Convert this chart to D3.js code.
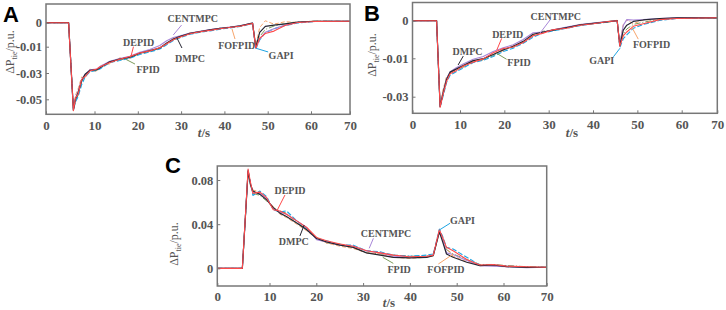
<!DOCTYPE html>
<html>
<head>
<meta charset="utf-8">
<script src="https://cdn.jsdelivr.net/npm/d3@7"></script>
<style>
  body { margin: 0; background: #fff; }
</style>
</head>
<body>
<script>
// ---- data (t in s, values in p.u.) ----
const names = ['FPID', 'FOFPID', 'GAPI', 'CENTMPC', 'DMPC', 'DEPID'];
const xTicks = [0, 10, 20, 30, 40, 50, 60, 70];

// panel A
const tA = [0, 4.66, 5.65, 6.08, 6.62, 7.34, 8.06, 9.05, 10.53, 11.25, 13.53, 15.84, 18.15, 20.46, 22.77, 25.08, 26.67, 28.2, 29.8, 32.1, 34.4, 36.7, 39.0, 41.3, 43.6, 46.5, 47.25, 48.15, 49.45, 51.45, 54.0, 57.0, 61.1, 70];
const dmpcA = [0, 0, -0.058, -0.050, -0.045, -0.036, -0.031, -0.028, -0.0275, -0.026, -0.0215, -0.0195, -0.018, -0.015, -0.013, -0.011, -0.0085, -0.0068, -0.0057, -0.0044, -0.0037, -0.003, -0.0024, -0.0019, -0.0013, -0.0002, -0.0105, -0.004, -0.0015, -0.001, -0.0005, 0.0003, 0.0006, 0.0006];
const depidA = [0, 0, -0.0585, -0.049, -0.046, -0.035, -0.0325, -0.0285, -0.027, -0.0255, -0.022, -0.0195, -0.0175, -0.0148, -0.0132, -0.0108, -0.0088, -0.0071, -0.0060, -0.0046, -0.0038, -0.0032, -0.0025, -0.0020, -0.0015, -0.0003, -0.0112, -0.0065, -0.0045, -0.0035, -0.0012, 0.0001, 0.0005, 0.0006];
const centA = [0, 0, -0.057, -0.049, -0.044, -0.035, -0.031, -0.0275, -0.027, -0.025, -0.021, -0.019, -0.0172, -0.0142, -0.0122, -0.0095, -0.0075, -0.0062, -0.0055, -0.0043, -0.0036, -0.0029, -0.0023, -0.0018, -0.0013, -0.0001, -0.0108, -0.0068, -0.004, -0.0025, -0.001, 0.0002, 0.0006, 0.0006];
const fpidA = [0, 0, -0.0575, -0.051, -0.047, -0.037, -0.0315, -0.0285, -0.028, -0.0265, -0.0210, -0.0200, -0.0185, -0.0152, -0.0134, -0.0112, -0.0087, -0.0070, -0.0058, -0.0045, -0.0036, -0.0031, -0.0023, -0.0020, -0.0014, -0.0002, -0.0108, -0.0058, -0.0028, -0.0014, -0.0004, 0.0003, 0.0007, 0.0006];
const fofA = [0, 0, -0.056, -0.047, -0.042, -0.033, -0.034, -0.027, -0.029, -0.0245, -0.023, -0.0185, -0.019, -0.0145, -0.0138, -0.0105, -0.009, -0.0066, -0.0062, -0.0041, -0.0039, -0.0028, -0.0026, -0.0017, -0.0016, 0.0, -0.0095, -0.002, 0.0008, -0.0006, 0.0004, 0.0001, 0.0007, 0.0006];
const gapiA = [0, 0, -0.058, -0.052, -0.048, -0.039, -0.033, -0.029, -0.028, -0.027, -0.022, -0.0205, -0.0188, -0.016, -0.014, -0.0118, -0.0092, -0.0074, -0.0062, -0.0048, -0.004, -0.0034, -0.0027, -0.0022, -0.0016, -0.0004, -0.0118, -0.0072, -0.0042, -0.0025, -0.0012, -0.0001, 0.0005, 0.0006];
const yTicksA = [0, -0.01, -0.03, -0.05];

// panel B
const tB = [0, 5.07, 5.81, 6.46, 7.18, 7.92, 9.29, 10.72, 12.98, 15.23, 17.49, 19.74, 22.0, 24.25, 26.5, 28.76, 31.0, 34.06, 37.1, 40.06, 43.1, 45.45, 46.04, 46.83, 47.62, 49.09, 51.34, 55.06, 58.9, 70];
const dmpcB = [0, 0, -0.0352, -0.028, -0.021, -0.0172, -0.0155, -0.0138, -0.0112, -0.0102, -0.0090, -0.0078, -0.0068, -0.0055, -0.0036, -0.0030, -0.0025, -0.0018, -0.0011, -0.0007, -0.0003, 0.0, -0.0066, -0.0025, -0.0012, -0.0002, 0.0002, 0.0006, 0.0008, 0.0008];
const depidB = [0, 0, -0.0355, -0.0285, -0.022, -0.018, -0.0163, -0.0140, -0.0120, -0.0103, -0.0085, -0.0074, -0.0070, -0.0058, -0.0040, -0.0033, -0.0024, -0.0020, -0.0012, -0.0008, -0.0003, 0.0, -0.0068, -0.0040, -0.0030, -0.0015, -0.0008, 0.0003, 0.0006, 0.0008];
const centB = [0, 0, -0.035, -0.0275, -0.0205, -0.017, -0.0148, -0.0130, -0.0105, -0.0095, -0.0082, -0.0072, -0.0064, -0.0050, -0.0032, -0.0030, -0.0024, -0.0017, -0.0010, -0.0006, -0.0002, 0.0, -0.0064, -0.0012, 0.0003, 0.0002, 0.0003, 0.0006, 0.0008, 0.0008];
const fpidB = [0, 0, -0.0345, -0.027, -0.020, -0.0175, -0.0158, -0.0145, -0.0118, -0.0107, -0.0093, -0.0076, -0.0070, -0.0057, -0.0040, -0.0028, -0.0026, -0.0019, -0.0012, -0.0007, -0.0004, 0.0, -0.0067, -0.0035, -0.0022, -0.0010, -0.0004, 0.0004, 0.0007, 0.0008];
const fofB = [0, 0, -0.034, -0.026, -0.0195, -0.0180, -0.0150, -0.0148, -0.0112, -0.0110, -0.0088, -0.0080, -0.0066, -0.0059, -0.0037, -0.0031, -0.0023, -0.0019, -0.0010, -0.0008, -0.0002, 0.0001, -0.0060, -0.0010, 0.0002, -0.0008, 0.0002, 0.0004, 0.0008, 0.0008];
const gapiB = [0, 0, -0.0355, -0.0295, -0.0225, -0.0188, -0.0168, -0.0150, -0.0122, -0.0110, -0.0095, -0.0082, -0.0073, -0.0060, -0.0044, -0.0032, -0.0027, -0.0020, -0.0013, -0.0008, -0.0004, 0.0, -0.0072, -0.0048, -0.0038, -0.0020, -0.0010, 0.0001, 0.0006, 0.0008];
const yTicksB = [0, -0.01, -0.03];

// panel C
const tC = [0, 4.8, 5.9, 6.35, 6.82, 8.17, 9.46, 10.81, 12.22, 13.63, 15.83, 17.95, 20.06, 22.18, 25.09, 27.9, 30.73, 33.63, 36.45, 39.98, 43.59, 45.0, 46.3, 47.0, 47.82, 49.23, 52.14, 54.96, 57.78, 60.74, 65.32, 70];
const dmpcC = [0, 0, 0.088, 0.076, 0.070, 0.067, 0.062, 0.055, 0.050, 0.047, 0.041, 0.035, 0.027, 0.024, 0.021, 0.019, 0.014, 0.012, 0.010, 0.0095, 0.0100, 0.0115, 0.033, 0.024, 0.013, 0.010, 0.0055, 0.0025, 0.003, 0.0015, 0.0008, 0.001];
const depidC = [0, 0, 0.090, 0.078, 0.068, 0.069, 0.064, 0.053, 0.052, 0.049, 0.043, 0.037, 0.028, 0.025, 0.022, 0.020, 0.016, 0.014, 0.012, 0.0105, 0.011, 0.012, 0.035, 0.028, 0.019, 0.016, 0.008, 0.003, 0.0035, 0.002, 0.0015, 0.001];
const centC = [0, 0, 0.088, 0.077, 0.069, 0.068, 0.063, 0.054, 0.051, 0.049, 0.043, 0.037, 0.026, 0.024, 0.021, 0.020, 0.016, 0.014, 0.011, 0.010, 0.0105, 0.012, 0.034, 0.026, 0.014, 0.0125, 0.007, 0.0025, 0.002, 0.0015, 0.0005, 0.001];
const fpidC = [0, 0, 0.087, 0.076, 0.068, 0.066, 0.061, 0.055, 0.052, 0.050, 0.041, 0.036, 0.028, 0.023, 0.022, 0.019, 0.014, 0.013, 0.012, 0.011, 0.011, 0.0125, 0.034, 0.027, 0.017, 0.013, 0.008, 0.0035, 0.0035, 0.0025, 0.0015, 0.001];
const fofC = [0, 0, 0.089, 0.075, 0.071, 0.069, 0.062, 0.056, 0.049, 0.046, 0.040, 0.034, 0.027, 0.023, 0.020, 0.018, 0.014, 0.013, 0.010, 0.009, 0.010, 0.0115, 0.033, 0.025, 0.018, 0.011, 0.006, 0.003, 0.0025, 0.0015, 0.001, 0.001];
const gapiC = [0, 0, 0.089, 0.077, 0.066, 0.070, 0.065, 0.053, 0.051, 0.052, 0.043, 0.036, 0.027, 0.025, 0.021, 0.021, 0.016, 0.015, 0.012, 0.011, 0.012, 0.013, 0.0355, 0.029, 0.019, 0.0175, 0.010, 0.003, 0.003, 0.002, 0.001, 0.001];
const yTicksC = [0, 0.04, 0.08];

// annotations: name, text (t,v), leader from (t,v) to (t,v)
const notesA = [
  ['CENTMPC', 32.7, 0.0018, 30.1, -0.001, 28.2, -0.0051],
  ['DEPID', 20.2, -0.0082, 19.0, -0.0100, 18.4, -0.0176],
  ['FPID', 22.4, -0.027, 19.35, -0.0232, 17.3, -0.0197],
  ['DMPC', 32.05, -0.0188, 30.2, -0.011, 29.05, -0.0064],
  ['FOFPID', 42.85, -0.0093, 42.45, -0.0068, 41.75, -0.0026],
  ['GAPI', 53.1, -0.0168, 50.1, -0.014, 47.3, -0.0112]
];
const notesB = [
  ['CENTMPC', 31.6, 0.00125, 30.3, 0.0002, 28.0, -0.0034],
  ['DEPID', 20.76, -0.0036, 19.4, -0.0047, 18.3, -0.0078],
  ['DMPC', 11.7, -0.0083, 10.74, -0.0094, 9.6, -0.0135],
  ['FPID', 23.3, -0.0123, 20.5, -0.0105, 18.3, -0.0087],
  ['GAPI', 41.96, -0.0109, 44.6, -0.0096, 46.1, -0.0073],
  ['FOFPID', 53.2, -0.0063, 50.2, -0.0049, 48.7, -0.0016]
];
const notesC = [
  ['DEPID', 14.38, 0.0703, 13.3, 0.0664, 11.67, 0.0528],
  ['DMPC', 15.2, 0.0241, 16.5, 0.0293, 17.4, 0.0392],
  ['CENTMPC', 34.9, 0.0317, 32.2, 0.0272, 31.3, 0.0181],
  ['FPID', 37.7, -0.0009, 36.45, 0.0045, 34.2, 0.0100],
  ['FOFPID', 47.7, -0.0009, 46.07, 0.0039, 49.27, 0.0130],
  ['GAPI', 51.24, 0.0431, 48.57, 0.0408, 46.28, 0.0347]
];

// ---- look ----
const styles = {
  DEPID:   { color: '#ff4a4a', dash: null, w: 1.1 },
  CENTMPC: { color: '#a886d8', dash: null, w: 1.1 },
  DMPC:    { color: '#262633', dash: null, w: 1.2 },
  FPID:    { color: '#7d9c5a', dash: '6,2,1,2', w: 1 },
  FOFPID:  { color: '#f7a56c', dash: '4,2', w: 1 },
  GAPI:    { color: '#1ea4e2', dash: '5,2', w: 1.1 }
};
const gray = '#555';
const serif = '"Liberation Serif", "Times New Roman", serif';

// panel layout (pixels). the printed axes are not evenly spaced,
// so both scales use piecewise domains to line up with the tick labels
const panels = [
  { id: 'A', t: tA, yTicks: yTicksA, notes: notesA,
    series: { FPID: fpidA, FOFPID: fofA, GAPI: gapiA, CENTMPC: centA, DMPC: dmpcA, DEPID: depidA },
    xDom: [0, 10, 60, 70], xRng: [46, 94.5, 311, 350],
    yDom: [0.0078, 0, -0.01, -0.05, -0.0611], yRng: [4, 22.7, 46.7, 99.3, 114.3],
    letter: [3, 22], yLab: [14, 52], xLab: [204, 137] },
  { id: 'B', t: tB, yTicks: yTicksB, notes: notesB,
    series: { FPID: fpidB, FOFPID: fofB, GAPI: gapiB, CENTMPC: centB, DMPC: dmpcB, DEPID: depidB },
    xDom: [0, 10, 60, 70], xRng: [412.5, 460, 681.7, 717.3],
    yDom: [0.005, 0, -0.01, -0.03, -0.0386], yRng: [2.5, 20.7, 58.3, 96.7, 113.3],
    letter: [364, 21], yLab: [376, 55], xLab: [572, 137] },
  { id: 'C', t: tC, yTicks: yTicksC, notes: notesC,
    series: { FPID: fpidC, FOFPID: fofC, GAPI: gapiC, CENTMPC: centC, DMPC: dmpcC, DEPID: depidC },
    xDom: [0, 10, 60, 70], xRng: [217.3, 269.5, 503.5, 546.7],
    yDom: [0.0927, -0.016], yRng: [166, 286],
    letter: [165, 173], yLab: [178, 244], xLab: [389, 307] }
];

const svg = d3.select('body').append('svg')
  .attr('width', 726)
  .attr('height', 310)
  .style('background', '#fff');

panels.forEach(p => {
  const x = d3.scaleLinear().domain(p.xDom).range(p.xRng);
  const y = d3.scaleLinear().domain(p.yDom).range(p.yRng);
  const left = p.xRng[0], right = p.xRng[p.xRng.length - 1];
  const top = p.yRng[0], bot = p.yRng[p.yRng.length - 1];
  const g = svg.append('g');

  g.append('clipPath').attr('id', 'clip' + p.id)
    .append('rect')
    .attr('x', left).attr('y', top)
    .attr('width', right - left).attr('height', bot - top);

  // curves
  const line = d3.line().x(d => x(d[0])).y(d => y(d[1]));
  const plot = g.append('g').attr('clip-path', `url(#clip${p.id})`);
  names.forEach(n => {
    const pts = p.t.map((t, i) => [t, p.series[n][i]]);
    plot.append('path')
      .datum(pts)
      .attr('d', line)
      .attr('fill', 'none')
      .attr('stroke', styles[n].color)
      .attr('stroke-width', styles[n].w)
      .attr('stroke-dasharray', styles[n].dash)
      .attr('stroke-linejoin', 'round');
  });

  // axes, ticks point inwards
  const xAxis = d3.axisBottom(x).tickValues(xTicks).tickSize(-3).tickPadding(6).tickFormat(d3.format('d'));
  const yAxis = d3.axisLeft(y).tickValues(p.yTicks).tickSize(-3).tickPadding(4).tickFormat(d => d === 0 ? '0' : String(d));

  const xg = g.append('g').attr('transform', `translate(0,${bot})`).call(xAxis);
  const yg = g.append('g').attr('transform', `translate(${left},0)`).call(yAxis);
  [xg, yg].forEach(a => {
    a.select('.domain').remove();
    a.selectAll('line').attr('stroke', '#777');
    a.selectAll('text')
      .attr('fill', gray)
      .style('font-family', serif)
      .style('font-weight', 'bold');
  });
  xg.selectAll('text').style('font-size', '13px');
  yg.selectAll('text').style('font-size', '12.5px');

  // frame
  g.append('rect')
    .attr('x', left).attr('y', top)
    .attr('width', right - left).attr('height', bot - top)
    .attr('fill', 'none')
    .attr('stroke', '#777')
    .attr('stroke-width', 1.5);

  // curve labels with leader lines
  p.notes.forEach(nt => {
    g.append('line')
      .attr('x1', x(nt[3])).attr('y1', y(nt[4]))
      .attr('x2', x(nt[5])).attr('y2', y(nt[6]))
      .attr('stroke', styles[nt[0]].color)
      .attr('stroke-width', 1);
    g.append('text')
      .attr('x', x(nt[1])).attr('y', y(nt[2]))
      .attr('dy', '0.35em')
      .attr('text-anchor', 'middle')
      .attr('fill', gray)
      .style('font-family', serif)
      .style('font-weight', 'bold')
      .style('font-size', '10px')
      .text(nt[0]);
  });

  // axis titles
  const yl = g.append('text')
    .attr('transform', `translate(${p.yLab[0]},${p.yLab[1]}) rotate(-90)`)
    .attr('text-anchor', 'middle')
    .attr('fill', gray)
    .style('font-family', serif)
    .style('font-size', '12px');
  yl.append('tspan').text('ΔP');
  yl.append('tspan').attr('dy', 3).style('font-size', '8px').text('tie');
  yl.append('tspan').attr('dy', -3).text('/p.u.');

  const xl = g.append('text')
    .attr('x', p.xLab[0]).attr('y', p.xLab[1])
    .attr('text-anchor', 'middle')
    .attr('fill', gray)
    .style('font-family', serif)
    .style('font-weight', 'bold')
    .style('font-size', '13px');
  xl.append('tspan').style('font-style', 'italic').text('t');
  xl.append('tspan').text('/s');

  // panel letter
  g.append('text')
    .attr('x', p.letter[0]).attr('y', p.letter[1])
    .style('font-family', '"Liberation Sans", Arial, sans-serif')
    .style('font-weight', 'bold')
    .style('font-size', '22px')
    .attr('fill', '#000')
    .text(p.id);
});
</script>
</body>
</html>
